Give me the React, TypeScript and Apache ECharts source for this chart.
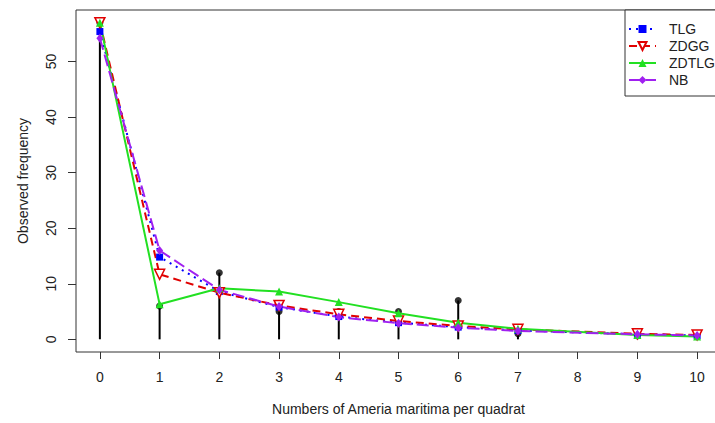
import React, { useEffect, useRef } from "react";
import * as echarts from "echarts";

const counts = [0, 1, 2, 3, 4, 5, 6, 7, 9, 10];
const observed = [57, 6, 12, 5, 5, 5, 7, 1, 1, 1];
const tlg = [55.4, 14.8, 8.6, 5.8, 4.1, 3.0, 2.2, 1.6, 0.9, 0.7];
const zdgg = [57.0, 11.7, 8.4, 6.1, 4.5, 3.3, 2.4, 1.8, 1.0, 0.8];
const zdtlg = [57.0, 6.3, 9.2, 8.6, 6.7, 4.7, 3.0, 1.9, 0.8, 0.5];
const nb = [54.2, 16.0, 8.9, 5.9, 4.0, 2.9, 2.1, 1.5, 0.9, 0.7];
const xTicks = [0, 1, 2, 3, 4, 5, 6, 7, 8, 9, 10];
const yTicks = [0, 10, 20, 30, 40, 50];

const FONT = "'Liberation Sans', Arial, sans-serif";
const pair = (ys: number[]) => counts.map((c, i) => [c, ys[i]]);

export default function App() {
  const ref = useRef<HTMLDivElement>(null);
  useEffect(() => {
    if (!ref.current) return;
    const chart = echarts.init(ref.current, null, { renderer: "svg" });
    const lineSeries = (
      name: string,
      ys: number[],
      color: string,
      type: any,
      symbol: string,
      size: any,
      extra: any = {}
    ) => ({
      name,
      type: "line",
      data: pair(ys),
      symbol,
      symbolSize: size,
      showSymbol: true,
      lineStyle: { color, width: 2, type },
      itemStyle: { color },
      emphasis: { disabled: true },
      ...extra,
    });
    chart.setOption({
      animation: false,
      backgroundColor: "#fff",
      textStyle: { fontFamily: FONT },
      grid: {
        left: 76,
        width: 645,
        top: 10,
        bottom: 71,
        show: true,
        borderColor: "#333",
        borderWidth: 1,
        outerBoundsMode: "none",
        containLabel: false,
      },
      xAxis: {
        type: "value",
        min: -0.4,
        max: 10.4,
        name: "Numbers of Ameria maritima per quadrat",
        nameLocation: "middle",
        nameGap: 50,
        nameTextStyle: { fontSize: 14, color: "#222", fontFamily: FONT },
        axisLine: { show: false, onZero: false },
        axisTick: { show: true, length: 7, customValues: xTicks, lineStyle: { color: "#333" } },
        axisLabel: { customValues: xTicks, fontSize: 14, color: "#222", margin: 18, fontFamily: FONT },
        splitLine: { show: false },
      },
      yAxis: {
        type: "value",
        min: -2.28,
        max: 59.28,
        name: "Observed frequency",
        nameLocation: "middle",
        nameGap: 46,
        nameTextStyle: { fontSize: 14, color: "#222", fontFamily: FONT },
        axisLine: { show: false, onZero: false },
        axisTick: { show: true, length: 8, customValues: yTicks, lineStyle: { color: "#333" } },
        axisLabel: { customValues: yTicks, fontSize: 14, color: "#222", margin: 18, rotate: 90, fontFamily: FONT },
        splitLine: { show: false },
      },
      legend: {
        data: ["TLG", "ZDGG", "ZDTLG", "NB"],
        orient: "vertical",
        left: 625,
        top: 10,
        backgroundColor: "#fff",
        borderColor: "#333",
        borderWidth: 1,
        borderRadius: 0,
        padding: [12, 40, 9, 3],
        itemWidth: 27,
        itemHeight: 10,
        itemGap: 3,
        textStyle: { fontSize: 14, color: "#222", lineHeight: 14, padding: [0, 0, 0, 8], fontFamily: FONT },
      },
      series: [
        {
          name: "obsStem",
          type: "custom",
          data: pair(observed),
          silent: true,
          renderItem: (params: any, api: any) => {
            const top = api.coord([api.value(0), api.value(1)]);
            const base = api.coord([api.value(0), 0]);
            return {
              type: "line",
              shape: { x1: top[0], y1: top[1], x2: base[0], y2: base[1] },
              style: { stroke: "#000", lineWidth: 2 },
            };
          },
        },
        {
          name: "obsPoint",
          type: "scatter",
          data: pair(observed),
          symbol: "circle",
          symbolSize: 7,
          itemStyle: { color: "#000" },
          silent: true,
        },
        lineSeries("TLG", tlg, "#0000ff", [2, 5], "rect", 7),
        lineSeries("ZDGG", zdgg, "#e00000", [8, 5], "triangle", 10, {
          symbolRotate: 180,
          itemStyle: { color: "#fff", borderColor: "#e00000", borderWidth: 1.5 },
        }),
        lineSeries("ZDTLG", zdtlg, "#22e022", "solid", "triangle", 8),
        lineSeries("NB", nb, "#a020f0", [12, 5], "diamond", [7, 9]),
      ],
    });
    return () => chart.dispose();
  }, []);
  return (
    <div
      ref={ref}
      style={{ position: "fixed", left: 0, top: 0, width: 715, height: 423 }}
    />
  );
}
